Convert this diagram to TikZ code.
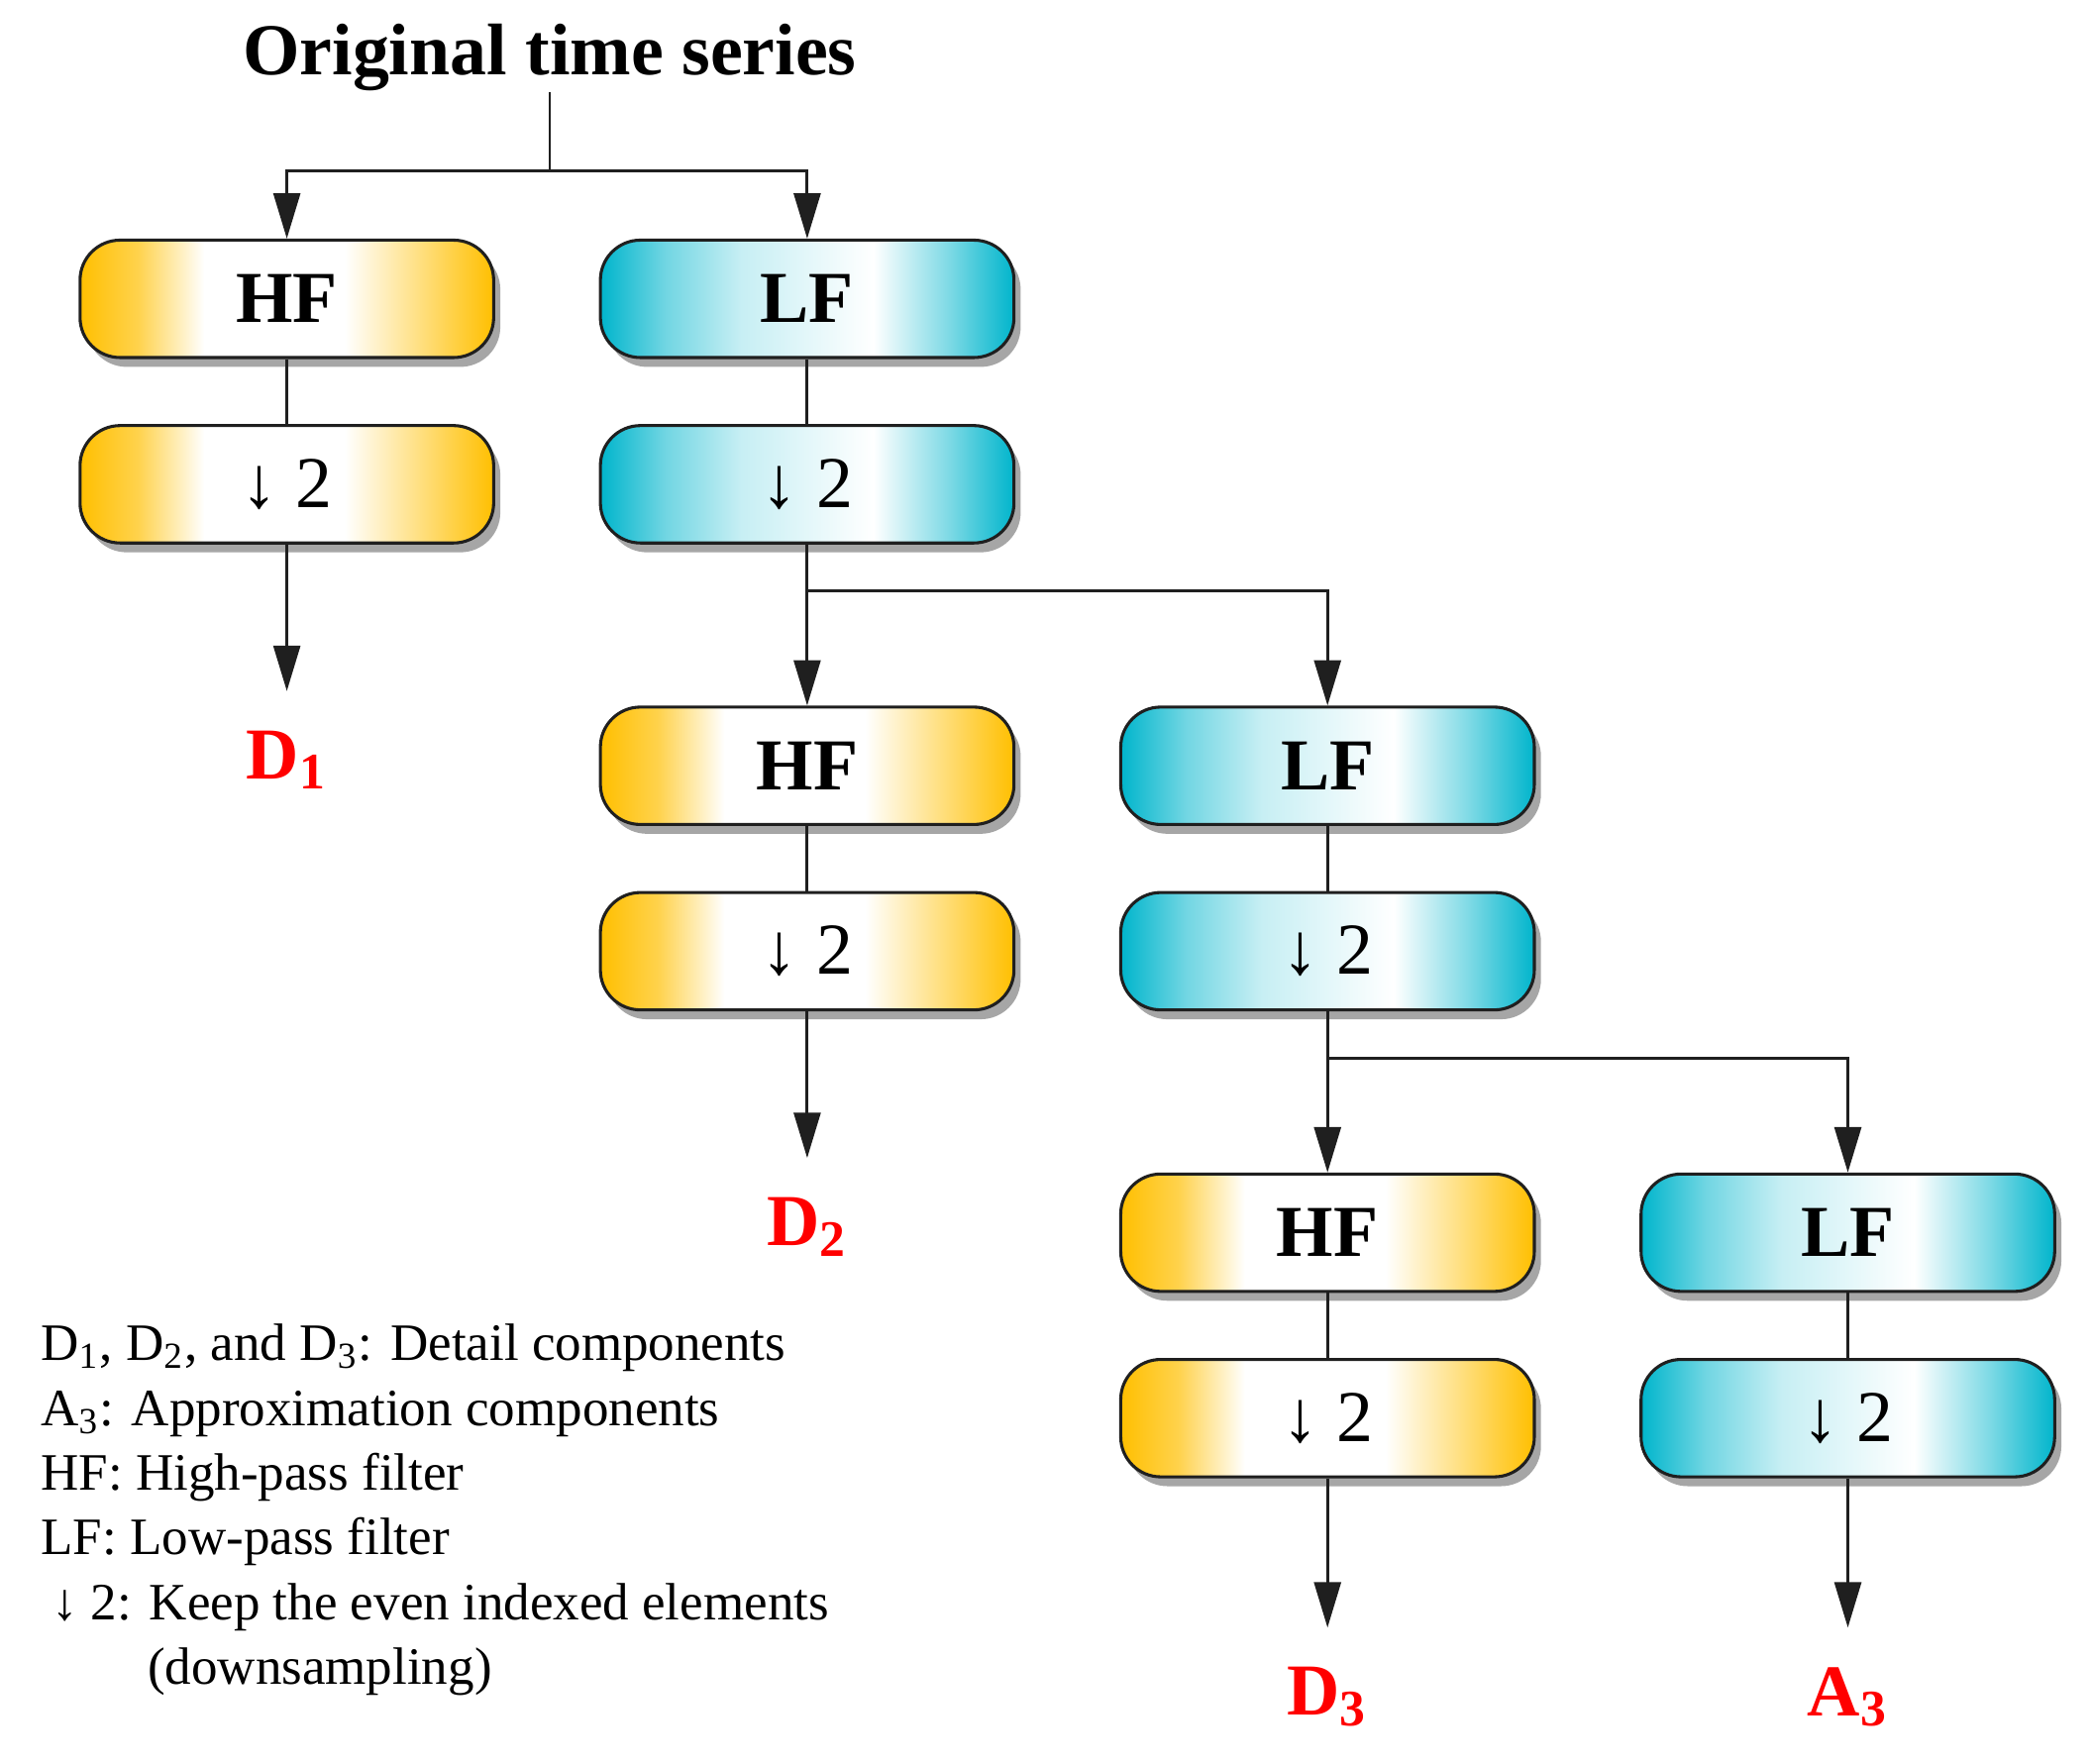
\documentclass[tikz,border=0pt]{standalone}
\usepackage{fontspec}
\setmainfont{Liberation Serif}
\usepackage{tikz}
\usetikzlibrary{shapes,shadows,arrows.meta}
\definecolor{hfgold}{rgb}{1.00,0.75,0.00}
\definecolor{lfteal}{rgb}{0.00,0.71,0.80}
\definecolor{wtgray}{rgb}{0.12,0.12,0.12}
\pgfdeclarehorizontalshading{hfshade}{100bp}{color(0bp)=(hfgold); color(25bp)=(hfgold); color(32bp)=(hfgold!70); color(40bp)=(white); color(57bp)=(white); color(67bp)=(hfgold!55); color(75bp)=(hfgold); color(100bp)=(hfgold)}
\pgfdeclarehorizontalshading{lfshade}{100bp}{color(0bp)=(lfteal); color(25bp)=(lfteal); color(33bp)=(lfteal!55); color(42bp)=(lfteal!22); color(58bp)=(white); color(67bp)=(lfteal!50); color(75bp)=(lfteal); color(100bp)=(lfteal)}
\tikzstyle{wtbox}=[rectangle, draw=wtgray, line width=0.65pt, rounded corners=0.3cm, minimum height=0.88cm, minimum width=3.1cm, font=\fontsize{15.6}{18}\selectfont, drop shadow={shadow xshift=0.05cm, shadow yshift=-0.07cm, opacity=0.35, fill=black}]
\tikzstyle{hfbox}=[wtbox, shading=hfshade]
\tikzstyle{lfbox}=[wtbox, shading=lfshade]
\tikzstyle{wtout}=[text=red, font=\fontsize{15.6}{18}\selectfont\bfseries, inner xsep=0.1cm, inner ysep=0.29cm, anchor=north]
\tikzstyle{wtlink}=[draw=wtgray, line width=0.6pt]
\tikzstyle{wtarrow}=[wtlink, -{Triangle[length=0.34cm, width=0.2cm]}]
\newcommand{\hfbox}[3]{
	\node[hfbox] (#1) at (#2) {#3};}
\newcommand{\lfbox}[3]{
	\node[lfbox] (#1) at (#2) {#3};}
\newcommand{\wtout}[3]{
	\node[wtout] (#1) at (#2) {#3};}

\begin{document}
\begin{tikzpicture}[auto]
	\useasboundingbox (0,0) rectangle (15.68,-13.22);
	\node[inner sep=0pt, font=\fontsize{15.6}{18}\selectfont\bfseries] (orig) at (4.12,-0.43) {Original time series};
	
	\hfbox{hf1}{2.15,-2.24}{\bfseries HF}
	\hfbox{ds1}{2.15,-3.63}{↓ 2}
	\lfbox{lf1}{6.05,-2.24}{\bfseries LF}
	\lfbox{ds2}{6.05,-3.63}{↓ 2}
	
	\hfbox{hf2}{6.05,-5.74}{\bfseries HF}
	\hfbox{ds3}{6.05,-7.13}{↓ 2}
	\lfbox{lf2}{9.95,-5.74}{\bfseries LF}
	\lfbox{ds4}{9.95,-7.13}{↓ 2}
	
	\hfbox{hf3}{9.95,-9.24}{\bfseries HF}
	\hfbox{ds5}{9.95,-10.63}{↓ 2}
	\lfbox{lf3}{13.85,-9.24}{\bfseries LF}
	\lfbox{ds6}{13.85,-10.63}{↓ 2}
	
	\wtout{d1}{2.15,-5.18}{D\textsubscript{1}}
	\wtout{d2}{6.05,-8.68}{D\textsubscript{2}}
	\wtout{d3}{9.95,-12.20}{D\textsubscript{3}}
	\wtout{a3}{13.85,-12.20}{A\textsubscript{3}}
	
	\coordinate (s0) at (4.12,-1.28);
	\coordinate (s1) at (6.05,-4.43);
	\coordinate (s2) at (9.95,-7.93);
	
	\path (orig) edge[wtlink] (s0);
	\draw[wtarrow] (s0) -| (hf1);
	\draw[wtarrow] (s0) -| (lf1);
	\path (hf1) edge[wtlink] (ds1);
	\path (lf1) edge[wtlink] (ds2);
	\path (ds1) edge[wtarrow] (d1);
	\path (ds2) edge[wtarrow] (hf2);
	\draw[wtarrow] (s1) -| (lf2);
	\path (hf2) edge[wtlink] (ds3);
	\path (lf2) edge[wtlink] (ds4);
	\path (ds3) edge[wtarrow] (d2);
	\path (ds4) edge[wtarrow] (hf3);
	\draw[wtarrow] (s2) -| (lf3);
	\path (hf3) edge[wtlink] (ds5);
	\path (lf3) edge[wtlink] (ds6);
	\path (ds5) edge[wtarrow] (d3);
	\path (ds6) edge[wtarrow] (a3);
	
	\node[anchor=north west, align=left, inner sep=0pt, font=\fontsize{11.2}{13.8}\selectfont] (legend) at (0.30,-9.92) {D\textsubscript{1}, D\textsubscript{2}, and D\textsubscript{3}: Detail components\\
		A\textsubscript{3}: Approximation components\\
		HF: High-pass filter\\
		LF: Low-pass filter\\
		\hspace*{0.08cm}↓ 2: Keep the even indexed elements\\
		\hspace*{0.8cm}(downsampling)};
\end{tikzpicture}
\end{document}
